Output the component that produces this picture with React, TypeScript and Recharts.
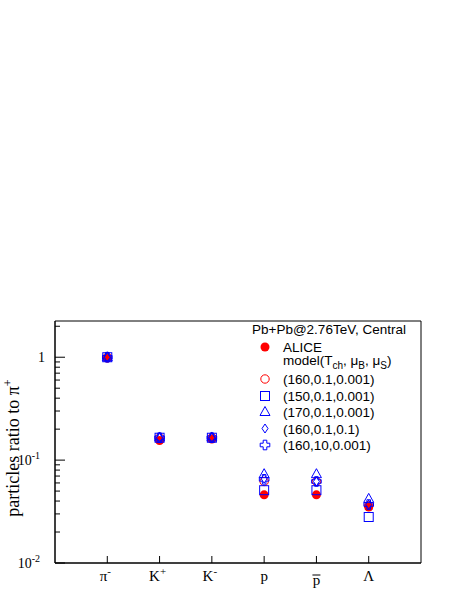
import { Legend, ReferenceArea, Scatter, ScatterChart, XAxis, YAxis } from "recharts";

// particle ratios to pi+, Pb+Pb 2.76 TeV central
const particles = ["π-", "K+", "K-", "p", "pbar", "Λ"];
const aliceRatio = [0.98, 0.155, 0.16, 0.046, 0.046, 0.035];
const model160 = [1.0, 0.165, 0.165, 0.062, 0.062, 0.036];
const model150 = [1.0, 0.165, 0.165, 0.051, 0.051, 0.028];
const model170 = [1.0, 0.166, 0.166, 0.073, 0.073, 0.042];
const model160muS = [1.0, 0.165, 0.165, 0.066, 0.062, 0.037];
const model160muB = [1.0, 0.165, 0.165, 0.065, 0.062, 0.037];

const yTicks = [
  0.01, 0.02, 0.03, 0.04, 0.05, 0.06, 0.07, 0.08, 0.09,
  0.1, 0.2, 0.3, 0.4, 0.5, 0.6, 0.7, 0.8, 0.9,
  1, 2,
];
const yMajor = [0.01, 0.1, 1];
const xTicks = [1, 2, 3, 4, 5, 6];

const RED = "#ff0000";
const BLUE = "#0000ff";

const toPoints = (vals: number[]) => vals.map((v, i) => ({ x: i + 1, y: v }));

type Marker = (cx: number, cy: number, key?: string) => JSX.Element;

const dot: Marker = (cx, cy, key) => <circle key={key} cx={cx} cy={cy} r={4.5} fill={RED} />;
const ring: Marker = (cx, cy, key) => (
  <circle key={key} cx={cx} cy={cy} r={4.2} fill="none" stroke={RED} strokeWidth={1} />
);
const square: Marker = (cx, cy, key) => (
  <rect key={key} x={cx - 4.5} y={cy - 4.5} width={9} height={9} fill="none" stroke={BLUE} strokeWidth={1} />
);
const triangle: Marker = (cx, cy, key) => (
  <polygon
    key={key}
    points={`${cx},${cy - 5.5} ${cx + 5},${cy + 3.5} ${cx - 5},${cy + 3.5}`}
    fill="none"
    stroke={BLUE}
    strokeWidth={1}
  />
);
const diamond: Marker = (cx, cy, key) => (
  <polygon
    key={key}
    points={`${cx},${cy - 4.5} ${cx + 3},${cy} ${cx},${cy + 4.5} ${cx - 3},${cy}`}
    fill="none"
    stroke={BLUE}
    strokeWidth={1}
  />
);
const cross: Marker = (cx, cy, key) => {
  const a = 1.8;
  const b = 4.8;
  const pts = [
    [-a, -b], [a, -b], [a, -a], [b, -a], [b, a], [a, a],
    [a, b], [-a, b], [-a, a], [-b, a], [-b, -a], [-a, -a],
  ]
    .map(([dx, dy]) => `${cx + dx},${cy + dy}`)
    .join(" ");
  return <polygon key={key} points={pts} fill="none" stroke={BLUE} strokeWidth={1} />;
};

const series = [
  { name: "ALICE", data: aliceRatio, marker: dot },
  { name: "(160,0.1,0.001)", data: model160, marker: ring },
  { name: "(150,0.1,0.001)", data: model150, marker: square },
  { name: "(170,0.1,0.001)", data: model170, marker: triangle },
  { name: "(160,0.1,0.1)", data: model160muS, marker: diamond },
  { name: "(160,10,0.001)", data: model160muB, marker: cross },
];

const serif = "'Liberation Serif', 'Times New Roman', serif";
const sans = "'Liberation Sans', Arial, sans-serif";

const YTick = (props: any) => {
  const { x, y, payload } = props;
  const v = payload.value;
  const major = yMajor.includes(v);
  return (
    <g>
      <line x1={x} x2={x + (major ? 10 : 5)} y1={y} y2={y} stroke="#000" />
      {major && v === 1 && (
        <text x={x - 10} y={y + 5} textAnchor="end" fontFamily={serif} fontSize={14}>
          1
        </text>
      )}
      {major && v !== 1 && (
        <text x={x - 15} y={y + 5} textAnchor="end" fontFamily={serif} fontSize={14}>
          10
          <tspan dy={-6} fontSize={10}>
            {v === 0.1 ? "-1" : "-2"}
          </tspan>
        </text>
      )}
    </g>
  );
};

const XTick = (props: any) => {
  const { x, y, payload } = props;
  const name = particles[payload.value - 1];
  let label: JSX.Element;
  if (name === "pbar") {
    label = (
      <g>
        <line x1={x - 4} x2={x + 4} y1={y + 12} y2={y + 12} stroke="#000" strokeWidth={1} />
        <text x={x} y={y + 22} textAnchor="middle" fontFamily={serif} fontSize={15}>
          p
        </text>
      </g>
    );
  } else if (name.endsWith("+") || name.endsWith("-")) {
    const base = name.slice(0, -1);
    const sup = name.endsWith("+") ? "+" : "-";
    label = (
      <text x={x - 2} y={y + 18} textAnchor="middle" fontFamily={serif} fontSize={15}>
        {base}
        <tspan dy={-6} fontSize={11}>
          {sup}
        </tspan>
      </text>
    );
  } else {
    label = (
      <text x={x} y={y + 18} textAnchor="middle" fontFamily={serif} fontSize={15}>
        {name}
      </text>
    );
  }
  return (
    <g>
      <line x1={x} x2={x} y1={y} y2={y - 7} stroke="#000" />
      {label}
    </g>
  );
};

const LegendBox = () => {
  const ox = 245;
  const oy = 318;
  const rowY = [347, 379, 396, 412, 428.5, 445];
  return (
    <svg width={210} height={140} style={{ display: "block" }}>
      <g transform={`translate(${-ox},${-oy})`} fontFamily={sans} fontSize={13.5}>
        <text x={252} y={334}>Pb+Pb@2.76TeV, Central</text>
        {series.map((s, i) => (
          <g key={s.name}>
            {s.marker(265, rowY[i])}
            <text x={283} y={rowY[i] + 5}>
              {s.name}
            </text>
          </g>
        ))}
        <text x={283} y={364.5}>
          model(T
          <tspan dy={4} fontSize={10}>ch</tspan>
          <tspan dy={-4}>, μ</tspan>
          <tspan dy={4} fontSize={10}>B</tspan>
          <tspan dy={-4}>, μ</tspan>
          <tspan dy={4} fontSize={10}>S</tspan>
          <tspan dy={-4}>)</tspan>
        </text>
      </g>
    </svg>
  );
};

const YTitle = () => (
  <text
    x={19}
    y={448}
    transform="rotate(-90, 19, 448)"
    textAnchor="middle"
    fontFamily={serif}
    fontSize={18}
  >
    particles ratio to π
    <tspan dy={-7} fontSize={12}>
      +
    </tspan>
  </text>
);

export default function App() {
  return (
    <div style={{ position: "absolute", left: 0, top: 0, width: 463, height: 599, background: "#fff" }}>
      <ScatterChart width={463} height={599} margin={{ top: 321, right: 42, bottom: 0, left: 0 }}>
        <XAxis
          dataKey="x"
          type="number"
          domain={[0, 7]}
          ticks={xTicks}
          interval={0}
          height={36}
          tickSize={0}
          tickMargin={0}
          tickLine={false}
          axisLine={{ stroke: "#000" }}
          tick={<XTick />}
          allowDataOverflow
        />
        <YAxis
          dataKey="y"
          type="number"
          scale="log"
          domain={[0.01, 2.25]}
          ticks={yTicks}
          interval={0}
          width={55}
          tickSize={0}
          tickMargin={0}
          tickLine={false}
          axisLine={{ stroke: "#000" }}
          tick={<YTick />}
          allowDataOverflow
          label={<YTitle />}
        />
        <ReferenceArea x1={0} x2={7} y1={0.01} y2={2.25} fill="none" stroke="#000" strokeWidth={1} ifOverflow="visible" />
        {series.map((s) => (
          <Scatter
            key={s.name}
            name={s.name}
            data={toPoints(s.data)}
            isAnimationActive={false}
            shape={(p: any) => s.marker(p.cx, p.cy)}
          />
        ))}
        <Legend
          layout="vertical"
          align="center"
          verticalAlign="middle"
          content={<LegendBox />}
          wrapperStyle={{ position: "absolute", left: 245, top: 318, width: 210, height: 140 }}
        />
      </ScatterChart>
    </div>
  );
}
